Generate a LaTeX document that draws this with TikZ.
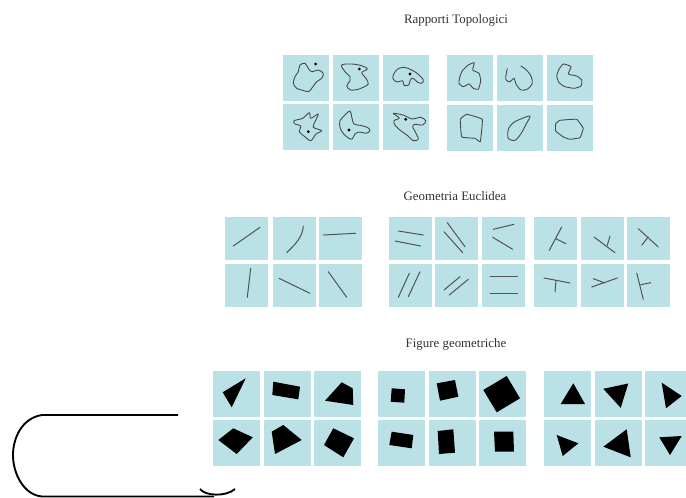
\documentclass[tikz,border=0pt]{standalone}
\usepackage{fontspec}
\setmainfont{Liberation Serif}
\usepackage{xcolor}
\usepackage{tikz}
\usetikzlibrary{positioning}

\definecolor{tilecyan}{RGB}{186,225,229}

\begin{document}
\begin{tikzpicture}[x=0.03cm, y=-0.03cm]

    \tikzstyle{tile}=[fill=tilecyan, inner sep=0pt, minimum size=1.38cm]
    \tikzstyle{euctile}=[tile, minimum size=1.29cm]
    \tikzstyle{figtile}=[tile, minimum width=1.41cm, minimum height=1.38cm]
    \tikzstyle{heading}=[font=\fontsize{11}{13}\selectfont, text=black!80]
    \tikzstyle{topoline}=[draw=black!72, line width=0.75pt, line join=round]
    \tikzstyle{eucline}=[draw=black!68, line width=0.85pt, line cap=round]
    \tikzstyle{figfill}=[fill=black]
    \tikzstyle{clipline}=[draw=black, line width=1.6pt]

    \useasboundingbox (0,0) rectangle (686,498);
    \clip (0,0) rectangle (686,498);

    \node[heading] (TOPOTITLE) at (456,20) {Rapporti Topologici};
    \node[heading] (EUCTITLE) at (455,196) {Geometria Euclidea};
    \node[heading] (FIGTITLE) at (456,344) {Figure geometriche};

    % tiles
    \foreach \n/\x/\y in {1/306/77.5, 2/355.5/77.5, 3/405.5/77.5, 4/306/126.5, 5/355.5/126.5, 6/405.5/126.5}
      \node[tile] (TOPL\n) at (\x,\y) {};
    \foreach \n/\x/\y in {1/470/77.5, 2/520/77.5, 3/570/77.5, 4/470/127.5, 5/520/127.5, 6/570/127.5}
      \node[tile] (TOPR\n) at (\x,\y) {};
    \foreach \g/\xa/\xb/\xc in {A/246.5/294/340.5, B/410/456.5/503.5, C/555.5/602/648.5} {
      \node[euctile] (EUC\g1) at (\xa,238.5) {};
      \node[euctile] (EUC\g2) at (\xb,238.5) {};
      \node[euctile] (EUC\g3) at (\xc,238.5) {};
      \node[euctile] (EUC\g4) at (\xa,285) {};
      \node[euctile] (EUC\g5) at (\xb,285) {};
      \node[euctile] (EUC\g6) at (\xc,285) {};
    }
    \foreach \g/\xa/\xb/\xc in {A/236.5/287.5/337.5, B/401.5/452/502.5, C/567/618/668.5} {
      \node[figtile] (FIG\g1) at (\xa,393.5) {};
      \node[figtile] (FIG\g2) at (\xb,393.5) {};
      \node[figtile] (FIG\g3) at (\xc,393.5) {};
      \node[figtile] (FIG\g4) at (\xa,443) {};
      \node[figtile] (FIG\g5) at (\xb,443) {};
      \node[figtile] (FIG\g6) at (\xc,443) {};
    }

    % rapporti topologici, with point
    \draw[topoline, shift={(TOPL1.center)}] plot[smooth cycle, tension=0.55] coordinates {(-6,-12.5) (-1,-14.2) (2.3,-9.2) (5.7,-5.8) (12.3,-7.5) (17.3,-4.2) (15.7,0.8) (10.7,4.2) (5.7,10.8) (2.3,14.2) (-4.3,12.5) (-9.3,10.8) (-12.7,5.8) (-11,-0.8) (-7.7,-5.8)};
    \fill[shift={(TOPL1.center)}] (9.7,-13.5) circle[radius=1.3pt];
    \draw[topoline, shift={(TOPL2.center)}] plot[smooth cycle, tension=0.55] coordinates {(-13.8,-12.5) (-3.8,-13.5) (6.2,-11.8) (11.8,-8.5) (6.2,-4.8) (10.5,0.8) (12.8,6.5) (7.8,9.8) (2.8,11.8) (-4.8,12.5) (-8.8,8.5) (-5.5,3.2) (-5.5,-0.8) (-10.5,-5.8)};
    \fill[shift={(TOPL2.center)}] (3.8,-8.5) circle[radius=1.3pt];
    \draw[topoline, shift={(TOPL3.center)}] plot[smooth cycle, tension=0.55] coordinates {(-12.2,-2.5) (-8.2,-8.2) (-1.5,-10.2) (6.2,-7.5) (12.8,-3.2) (17.8,2.5) (16.2,5.8) (11.8,4.5) (7.2,0.5) (4.5,3.2) (3.2,7.5) (-1.5,7.8) (-2.8,3.2) (-8.2,4.5) (-12.2,1.8)};
    \fill[shift={(TOPL3.center)}] (4.5,-3.5) circle[radius=1.3pt];
    \draw[topoline, shift={(TOPL4.center)}] plot[smooth cycle, tension=0.5] coordinates {(-12,-5.8) (-3.3,-8.2) (3.3,-13.8) (4.7,-8.2) (12.3,-12.5) (9,-4.8) (7.3,0.8) (15.7,4.2) (10,7.5) (4.7,14.2) (-2,9.5) (-6.7,5.2) (-5.3,-0.5) (-11,-2.5)};
    \fill[shift={(TOPL4.center)}] (2.3,5.2) circle[radius=1.3pt];
    \draw[topoline, shift={(TOPL5.center)}] plot[smooth cycle, tension=0.55] coordinates {(-15.5,-5.8) (-10.5,-11.5) (-5.5,-15.5) (-3.8,-9.8) (-1.5,-2.5) (4.5,-1.2) (11.8,0.8) (14.5,4.2) (10.5,6.8) (3.8,5.5) (-0.5,7.5) (-3.8,12.8) (-8.8,10.2) (-12.8,6.2) (-15.5,0.8)};
    \fill[shift={(TOPL5.center)}] (-6.5,3.5) circle[radius=1.3pt];
    \draw[topoline, shift={(TOPL6.center)}] plot[smooth cycle, tension=0.5] coordinates {(-12.2,-13.2) (-1.5,-11.2) (6.2,-7.5) (15.2,-9.2) (20.2,-5.8) (17.2,-1.5) (9.5,-2.2) (7.2,0.2) (10.5,6.8) (12.8,12.8) (7.8,14.2) (1.8,8.8) (-4.8,4.2) (-10.5,-1.5) (-11.5,-5.8) (-6.2,-8.5)};
    \fill[shift={(TOPL6.center)}] (0.2,-7.2) circle[radius=1.3pt];

    % rapporti topologici, closed and open lines
    \draw[topoline, shift={(TOPR1.center)}] plot[smooth cycle, tension=0.3] coordinates {(4.3,-14.8) (2.7,-7.5) (9,-4.2) (10.7,3.2) (8.3,11.8) (3.3,10.8) (-1,6.5) (-6.7,9.2) (-11,5.8) (-10.3,-0.2) (-7.7,-6.8) (-1.7,-12.5)};
    \draw[topoline, shift={(TOPR2.center)}] plot[smooth, tension=0.5] coordinates {(-12.7,-9.2) (-14.3,1.8) (-10,4.2) (-6,0.8) (-4,6.5) (1,12.5) (7.7,11.5) (12.3,5.8) (11,-1.5) (5.7,-8.2) (0.7,-11.5)};
    \draw[topoline, shift={(TOPR3.center)}] plot[smooth cycle, tension=0.3] coordinates {(-6.7,-13.5) (1,-10.8) (-1.7,-3.5) (6.7,-1.5) (11.7,2.5) (11,8.5) (4.3,10.8) (-5,9.2) (-11,5.2) (-13.3,-1.5) (-11,-8.2)};
    \draw[topoline, shift={(TOPR4.center)}] plot[smooth cycle, tension=0.15] coordinates {(-3.3,-13.2) (12.3,-8.2) (10.3,14.2) (5,10.8) (-8.3,9.5) (-9.7,-8.2)};
    \draw[topoline, shift={(TOPR5.center)}] plot[smooth cycle, tension=0.5] coordinates {(10,-11.5) (0,-8.2) (-6.7,-4.8) (-11.7,1.8) (-11.7,10.8) (-5,12.8) (1,6.2) (6,-3.2)};
    \draw[topoline, shift={(TOPR6.center)}] plot[smooth cycle, tension=0.15] coordinates {(-10,-7.2) (6.7,-8.2) (13.3,0.8) (10,10.2) (0,11.8) (-6.7,9.5) (-14.3,3.5) (-14.3,-3.8)};

    % geometria euclidea
    \draw[eucline, shift={(EUCA1.center)}] (-13.2,7.5) -- (13.5,-11.2);
    \draw[eucline, shift={(EUCA2.center)}] (-7.3,14.2) .. controls (1,6) and (8.5,-1) .. (9.3,-12.5);
    \draw[eucline, shift={(EUCA3.center)}] (-17.2,-3.5) -- (15.2,-5.2);
    \draw[eucline, shift={(EUCA4.center)}] (4.2,-16.7) -- (0.8,12.3);
    \draw[eucline, shift={(EUCA5.center)}] (-15,-6.7) -- (16,8.3);
    \draw[eucline, shift={(EUCA6.center)}] (-12.2,-13.3) -- (6.2,12.3);
    \draw[eucline, shift={(EUCB1.center)}] (-11.7,-7.5) -- (13.3,-3.5) (-15,2.5) -- (10.7,7.5);
    \draw[eucline, shift={(EUCB2.center)}] (-9.2,-15.8) -- (8.5,8.2) (-12.5,-6.8) -- (6.2,14.2);
    \draw[eucline, shift={(EUCB3.center)}] (-10.2,-9.2) -- (10.5,-14.2) (-10.8,-1.2) -- (9.2,10.8);
    \draw[eucline, shift={(EUCB4.center)}] (-11.7,12.3) -- (-0.7,-11.7) (-1.7,11.7) -- (10,-13.3);
    \draw[eucline, shift={(EUCB5.center)}] (-12.5,5) -- (3.5,-8.3) (-7.2,10) -- (11.8,-5.7);
    \draw[eucline, shift={(EUCB6.center)}] (-13.5,-8.3) -- (13.8,-8.3) (-13.5,8.3) -- (13.8,8.3);
    \draw[eucline, shift={(EUCC1.center)}] (-6.2,11.8) -- (6.2,-11.5) (0.2,0.2) -- (10.5,5.2);
    \draw[eucline, shift={(EUCC2.center)}] (-8,-1.5) -- (13,14.2) (8,-2.5) -- (5.3,6.8);
    \draw[eucline, shift={(EUCC3.center)}] (-10.2,-9.8) -- (9.8,8.5) (-0.2,-1.5) -- (-6.8,6.8);
    \draw[eucline, shift={(EUCC4.center)}] (-11.5,-7) -- (14.5,-2) (0.5,-4.7) -- (-0.5,7);
    \draw[eucline, shift={(EUCC5.center)}] (-10.3,2) -- (15.3,-7) (-8.7,-6.3) -- (3,-2);
    \draw[eucline, shift={(EUCC6.center)}] (-11.8,-12) -- (-5.2,14.3) (-7.5,-0.3) -- (2.2,-2.3);

    % figure geometriche
    \fill[figfill, shift={(FIGA1.center)}] (-13.8,-1.2) -- (9.2,-15.2) -- (-4.8,13.8) -- cycle;
    \fill[figfill, shift={(FIGA2.center)}] (-14.2,-11.8) -- (12.5,-6.8) -- (10.8,5.8) -- (-15.2,1.5) -- cycle;
    \fill[figfill, shift={(FIGA3.center)}] (-12.5,7.2) -- (4.2,-11.2) -- (15.2,-5.2) -- (15.8,11.5) -- cycle;
    \fill[figfill, shift={(FIGA4.center)}] (-18.2,-3) -- (-3.2,-14.7) -- (16.2,-5.7) -- (0.2,11) -- cycle;
    \fill[figfill, shift={(FIGA5.center)}] (-15.8,-11.3) -- (-4.2,-18) -- (14.2,-3) -- (-12.5,11) -- cycle;
    \fill[figfill, shift={(FIGA6.center)}] (-4.2,-14.7) -- (16.5,-4.7) -- (5.8,14.3) -- (-13.5,2) -- cycle;
    \fill[figfill, shift={(FIGB1.center)}] (-9.8,-5.2) -- (3.5,-4.2) -- (2.8,9.2) -- (-10.8,8.2) -- cycle;
    \fill[figfill, shift={(FIGB2.center)}] (-15.3,-10.2) -- (3,-13.5) -- (6.3,3.2) -- (-12,7.2) -- cycle;
    \fill[figfill, shift={(FIGB3.center)}] (-19.2,-3.5) -- (4.2,-17.5) -- (17.5,4.8) -- (-5.8,18.8) -- cycle;
    \fill[figfill, shift={(FIGB4.center)}] (-9.8,-11.3) -- (11.8,-8) -- (10.2,5.3) -- (-12.2,2) -- cycle;
    \fill[figfill, shift={(FIGB5.center)}] (-14.3,-12) -- (1.3,-13.7) -- (3,9.7) -- (-13,11) -- cycle;
    \fill[figfill, shift={(FIGB6.center)}] (-8.5,-11.3) -- (10.8,-11.3) -- (11.5,8.7) -- (-7.5,8.7) -- cycle;
    \fill[figfill, shift={(FIGC1.center)}] (6.3,-10.2) -- (18,10.5) -- (-6.3,10.5) -- cycle;
    \fill[figfill, shift={(FIGC2.center)}] (-14.7,-4.7) -- (10.3,-10) -- (2.7,14.3) -- cycle;
    \fill[figfill, shift={(FIGC3.center)}] (-6.8,-10.8) -- (13.2,2.5) -- (-2.5,14.8) -- cycle;
    \fill[figfill, shift={(FIGC4.center)}] (-10.3,-8) -- (11.3,0.3) -- (-4.3,13) -- cycle;
    \fill[figfill, shift={(FIGC5.center)}] (-14.7,3.7) -- (8.7,-13.7) -- (12.7,14.3) -- cycle;
    \fill[figfill, shift={(FIGC6.center)}] (-9.2,-5.7) -- (13.2,-7) -- (1.5,12) -- cycle;

    % bent line bottom left
    \draw[clipline] (178,415) -- (42,415) .. controls (22,418) and (13,438) .. (13,455)
                    .. controls (13,474) and (24,495) .. (42,496.5) -- (214,496.5);
    \draw[clipline] (200,489) .. controls (205,496) and (226,497) .. (235,489);

\end{tikzpicture}
\end{document}
